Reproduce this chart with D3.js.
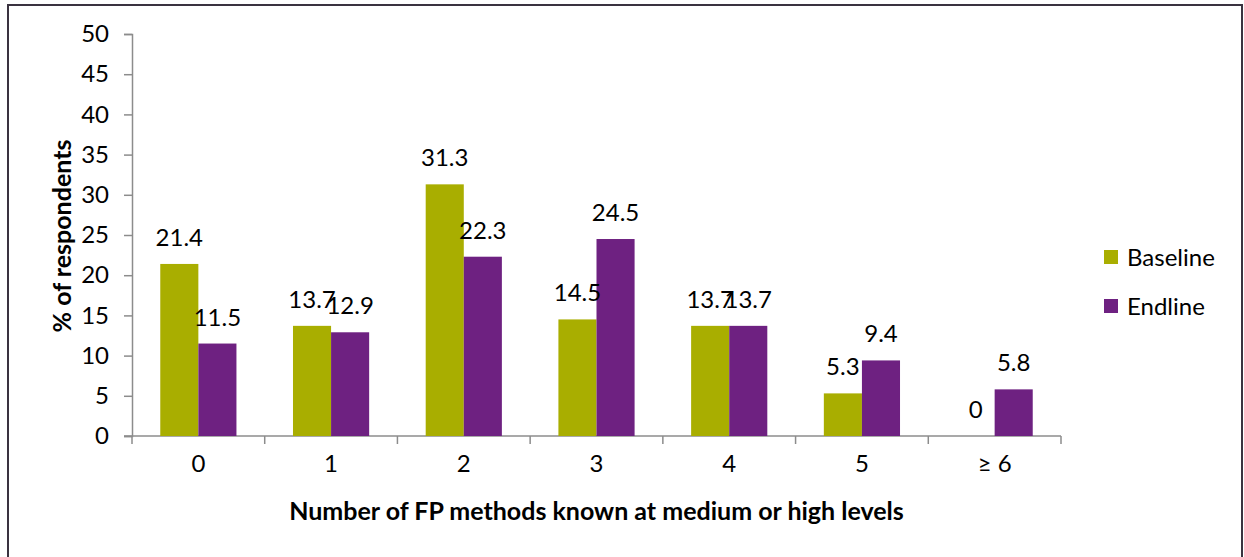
<!DOCTYPE html>
<html>
<head>
<meta charset="utf-8">
<script src="https://cdn.jsdelivr.net/npm/d3@7"></script>
<style>
  html, body { margin: 0; padding: 0; background: #fff; }
  svg { display: block; font-family: Lato, "Open Sans", sans-serif; }
</style>
</head>
<body>
<svg id="chart" width="1244" height="557"></svg>
<script>
// Number of FP methods known, baseline vs endline survey
const categories = ["0", "1", "2", "3", "4", "5", "\u2265 6"];
const baseline = [21.4, 13.7, 31.3, 14.5, 13.7, 5.3, 0];
const endline = [11.5, 12.9, 22.3, 24.5, 13.7, 9.4, 5.8];
const seriesNames = ["Baseline", "Endline"];
const seriesColors = ["#A9AE00", "#6E2181"];
const yTicks = [0, 5, 10, 15, 20, 25, 30, 35, 40, 45, 50];

const svg = d3.select("#chart");

// frame around the chart area
svg.append("rect")
  .attr("x", 8).attr("y", 5)
  .attr("width", 1234).attr("height", 620)
  .attr("fill", "none")
  .attr("stroke", "#3a3340")
  .attr("stroke-width", 2);

const plot = { left: 132, right: 1061, top: 34, bottom: 436 };

const x = d3.scaleBand()
  .domain(categories)
  .range([plot.left, plot.right])
  .paddingInner(0).paddingOuter(0);

const y = d3.scaleLinear()
  .domain([0, 50])
  .range([plot.bottom, plot.top]);

const groupWidth = x.bandwidth() * 0.574;
const sub = d3.scaleBand()
  .domain(seriesNames)
  .range([0, groupWidth]);

const rows = categories.map((c, i) => ({ cat: c, vals: [baseline[i], endline[i]] }));

const axisColor = "#8c8c8c";
const fontSize = 24;
const titleSize = 25;

// y axis
const yAxis = svg.append("g")
  .attr("transform", `translate(${plot.left},0)`)
  .call(d3.axisLeft(y).tickValues(yTicks).tickSize(8).tickPadding(15).tickFormat(d3.format("d")));
yAxis.select(".domain").attr("stroke", axisColor).attr("stroke-width", 1.5);
yAxis.selectAll(".tick line").attr("stroke", axisColor).attr("stroke-width", 1.5);
yAxis.selectAll(".tick text")
  .attr("font-size", fontSize).attr("fill", "#000")
  .attr("font-family", "Lato, sans-serif");

// x axis: ticks sit on the category boundaries
const xAxisG = svg.append("g")
  .attr("transform", `translate(0,${plot.bottom})`);
xAxisG.append("line")
  .attr("x1", plot.left - 8).attr("x2", plot.right)
  .attr("y1", 0).attr("y2", 0)
  .attr("stroke", axisColor).attr("stroke-width", 1.5);
const bounds = categories.map(c => x(c)).concat([x(categories[categories.length - 1]) + x.bandwidth()]);
xAxisG.selectAll("line.tk")
  .data(bounds)
  .join("line")
  .attr("class", "tk")
  .attr("x1", d => d).attr("x2", d => d)
  .attr("y1", 0).attr("y2", 8)
  .attr("stroke", axisColor).attr("stroke-width", 1.5);
xAxisG.selectAll("text")
  .data(categories)
  .join("text")
  .attr("x", d => x(d) + x.bandwidth() / 2)
  .attr("y", 36)
  .attr("text-anchor", "middle")
  .attr("font-size", fontSize)
  .text(d => d);

// bars
const groups = svg.append("g").selectAll("g")
  .data(rows)
  .join("g")
  .attr("transform", d => `translate(${x(d.cat) + (x.bandwidth() - groupWidth) / 2},0)`);

groups.selectAll("rect")
  .data(d => d.vals.map((v, j) => ({ v, s: seriesNames[j], j })))
  .join("rect")
  .attr("x", d => sub(d.s))
  .attr("width", sub.bandwidth())
  .attr("y", d => y(d.v))
  .attr("height", d => y(0) - y(d.v))
  .attr("fill", d => seriesColors[d.j]);

// value labels above each bar
groups.selectAll("text")
  .data(d => d.vals.map((v, j) => ({ v, s: seriesNames[j], j })))
  .join("text")
  .attr("x", d => sub(d.s) + sub.bandwidth() / 2)
  .attr("y", d => y(d.v) - 18)
  .attr("text-anchor", "middle")
  .attr("font-size", fontSize)
  .text(d => d3.format("")(d.v));

// axis titles
svg.append("text")
  .attr("x", (plot.left + plot.right) / 2)
  .attr("y", 520)
  .attr("text-anchor", "middle")
  .attr("font-size", titleSize)
  .attr("font-weight", "bold")
  .text("Number of FP methods known at medium or high levels");

svg.append("text")
  .attr("transform", `translate(71,${(plot.top + plot.bottom) / 2 + 1}) rotate(-90)`)
  .attr("text-anchor", "middle")
  .attr("font-size", titleSize)
  .attr("font-weight", "bold")
  .text("% of respondents");

// legend
const legend = svg.append("g").attr("transform", "translate(1104,250)");
seriesNames.forEach((name, i) => {
  const g = legend.append("g").attr("transform", `translate(0,${i * 49})`);
  g.append("rect").attr("width", 14).attr("height", 14).attr("fill", seriesColors[i]);
  g.append("text").attr("x", 23).attr("y", 16).attr("font-size", fontSize).text(name);
});
</script>
</body>
</html>
